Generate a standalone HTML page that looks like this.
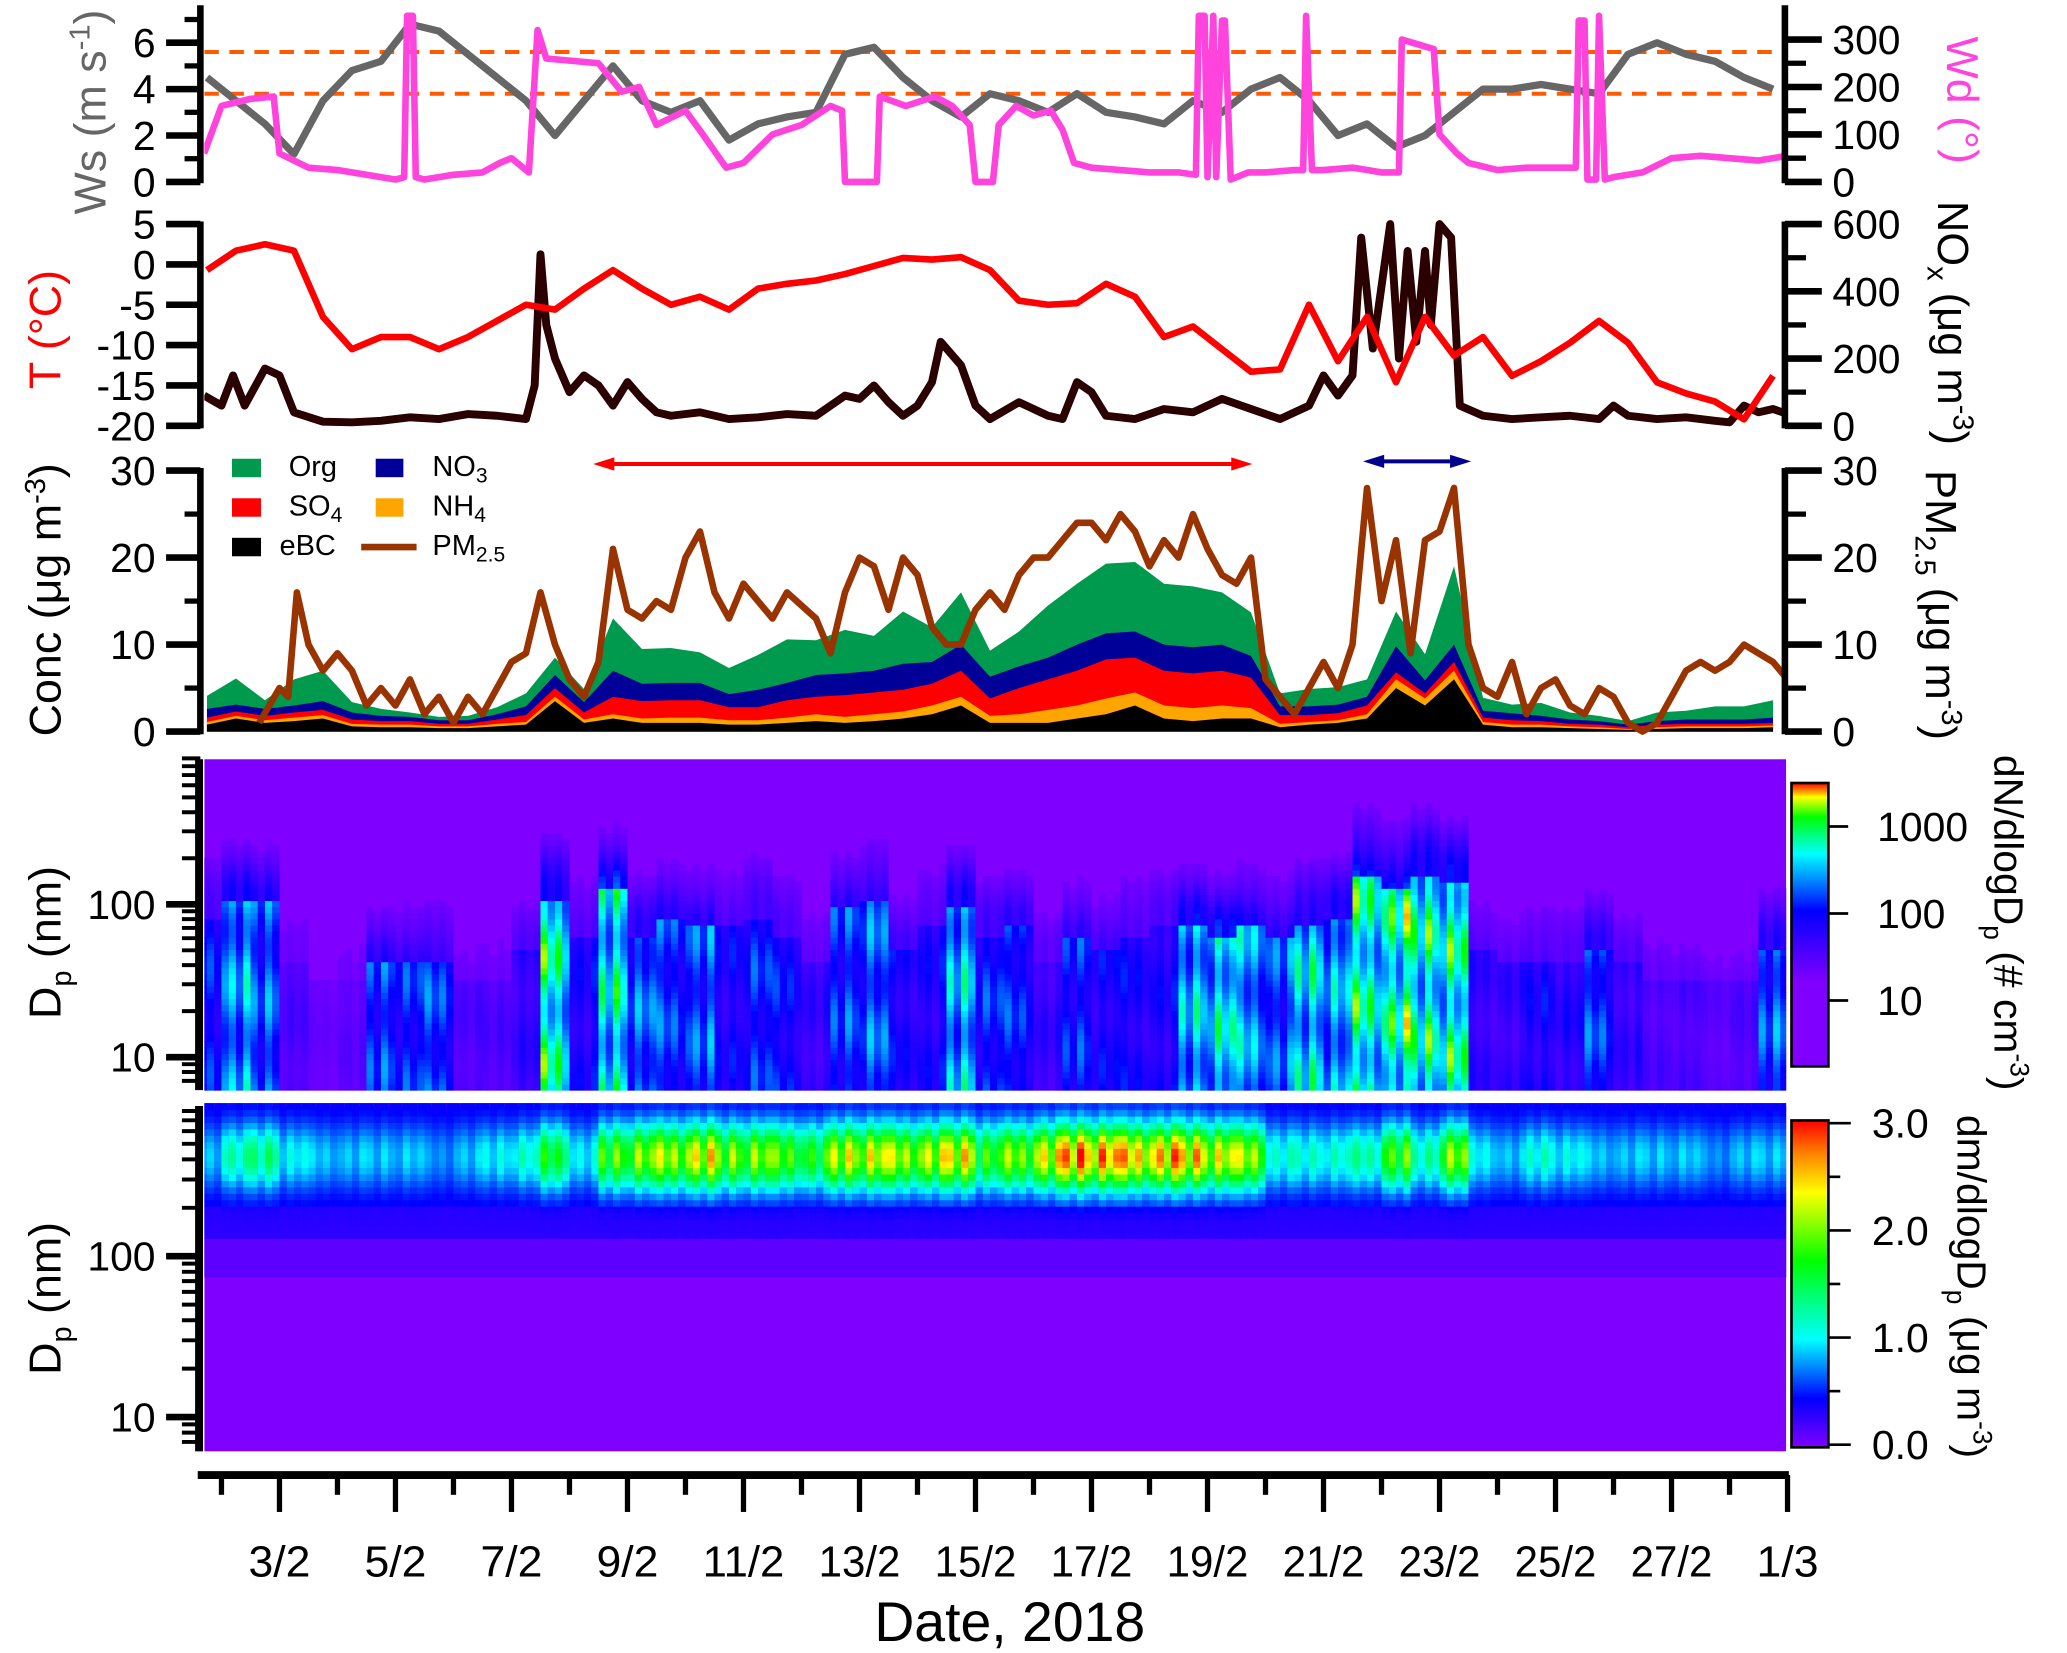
<!DOCTYPE html>
<html><head><meta charset="utf-8"><style>
html,body{margin:0;padding:0;background:#fff;}
svg{display:block;}
text{font-family:"Liberation Sans",Arial,sans-serif;}
</style></head><body>
<svg id="chart" xmlns="http://www.w3.org/2000/svg" width="2067" height="1653" viewBox="0 0 1568 1254" preserveAspectRatio="none">
<defs>
<linearGradient id="gN" x1="0" y1="1" x2="0" y2="0">
<stop offset="0" stop-color="#8000ff"/><stop offset="0.3" stop-color="#8000ff"/><stop offset="0.55" stop-color="#0000ff"/><stop offset="0.75" stop-color="#00ffff"/><stop offset="0.88" stop-color="#00ff00"/><stop offset="0.95" stop-color="#ffff00"/><stop offset="1" stop-color="#ff0000"/>
</linearGradient>
<linearGradient id="gM" x1="0" y1="1" x2="0" y2="0">
<stop offset="0" stop-color="#8000ff"/><stop offset="0.15" stop-color="#0000ff"/><stop offset="0.33" stop-color="#00ffff"/><stop offset="0.57" stop-color="#00ff00"/><stop offset="0.78" stop-color="#ffff00"/><stop offset="0.9" stop-color="#ff8000"/><stop offset="1" stop-color="#ff0000"/>
</linearGradient>
<clipPath id="clipPlot"><rect x="155" y="0" width="1200" height="1254"/></clipPath>
</defs>
<g id="layer-heat" clip-path="url(#clipPlot)"></g>
<g id="layer-series" clip-path="url(#clipPlot)"></g>
<g id="layer-axes"></g>

<text transform="rotate(-90,80,85)" x="80" y="85" text-anchor="middle" font-size="34" fill="#666">Ws (m s<tspan dy="-12" font-size="22">-1</tspan><tspan dy="12">)</tspan></text>
<text transform="rotate(-90,46,250)" x="46" y="250" text-anchor="middle" font-size="34" fill="#ff0000">T (°C)</text>
<text transform="rotate(-90,46,455)" x="46" y="455" text-anchor="middle" font-size="34" fill="#000">Conc (μg m<tspan dy="-12" font-size="22">-3</tspan><tspan dy="12">)</tspan></text>
<text transform="rotate(-90,46,715)" x="46" y="715" text-anchor="middle" font-size="34" fill="#000">D<tspan dy="8" font-size="22">p</tspan><tspan dy="-8"> (nm)</tspan></text>
<text transform="rotate(-90,46,985)" x="46" y="985" text-anchor="middle" font-size="34" fill="#000">D<tspan dy="8" font-size="22">p</tspan><tspan dy="-8"> (nm)</tspan></text>

<text transform="rotate(90,1477,76)" x="1477" y="76" text-anchor="middle" font-size="34" fill="#ff44dd">Wd (°)</text>
<text transform="rotate(90,1470,245)" x="1470" y="245" text-anchor="middle" font-size="33" fill="#000">NO<tspan dy="8" font-size="22">x</tspan><tspan dy="-8"> (μg m</tspan><tspan dy="-12" font-size="22">-3</tspan><tspan dy="12">)</tspan></text>
<text transform="rotate(90,1461,459)" x="1461" y="459" text-anchor="middle" font-size="33" fill="#000">PM<tspan dy="8" font-size="22">2.5</tspan><tspan dy="-8"> (μg m</tspan><tspan dy="-12" font-size="22">-3</tspan><tspan dy="12">)</tspan></text>
<text transform="rotate(90,1513,700)" x="1513" y="700" text-anchor="middle" font-size="31" fill="#000">dN/dlogD<tspan dy="8" font-size="20">p</tspan><tspan dy="-8"> (# cm</tspan><tspan dy="-12" font-size="20">-3</tspan><tspan dy="12">)</tspan></text>
<text transform="rotate(90,1485,976)" x="1485" y="976" text-anchor="middle" font-size="31" fill="#000">dm/dlogD<tspan dy="8" font-size="20">p</tspan><tspan dy="-8"> (μg m</tspan><tspan dy="-12" font-size="20">-3</tspan><tspan dy="12">)</tspan></text>

<text x="766" y="1245" text-anchor="middle" font-size="42" fill="#000">Date, 2018</text>

<g font-size="22" fill="#000">
<rect x="176" y="348" width="22" height="14" fill="#009a4e"/>
<text x="219" y="361">Org</text>
<rect x="285" y="348" width="21" height="14" fill="#000099"/>
<text x="328" y="361">NO<tspan dy="5" font-size="16">3</tspan></text>
<rect x="176" y="378" width="22" height="14" fill="#ff0000"/>
<text x="219" y="391">SO<tspan dy="5" font-size="16">4</tspan></text>
<rect x="285" y="378" width="21" height="14" fill="#ffa500"/>
<text x="328" y="391">NH<tspan dy="5" font-size="16">4</tspan></text>
<rect x="176" y="408" width="22" height="14" fill="#000"/>
<text x="212" y="421">eBC</text>
<line x1="274" y1="415" x2="316" y2="415" stroke="#993300" stroke-width="5"/>
<text x="328" y="421">PM<tspan dy="5" font-size="16">2.5</tspan></text>
</g>

<g>
<line x1="462" y1="352" x2="938" y2="352" stroke="#ff0000" stroke-width="3"/>
<polygon points="450,352 466,347 466,357" fill="#ff0000"/>
<polygon points="950,352 934,347 934,357" fill="#ff0000"/>
</g>
<g>
<line x1="1046" y1="350" x2="1104" y2="350" stroke="#00008b" stroke-width="3"/>
<polygon points="1034,350 1050,345 1050,355" fill="#00008b"/>
<polygon points="1116,350 1100,345 1100,355" fill="#00008b"/>
</g>

<rect x="1359" y="594" width="28" height="215" fill="url(#gN)" stroke="#000" stroke-width="2"/>
<rect x="1359" y="850" width="28" height="248" fill="url(#gM)" stroke="#000" stroke-width="2"/>
</svg>

<script>
const days = Array.from({length:55},(_,i)=>1.75+0.5*i);
const wsVals = [4.5,3.5,2.5,1.2,3.5,4.8,5.2,6.8,6.5,5.5,4.5,3.5,2.0,3.5,5.0,3.5,3.0,3.5,1.8,2.5,2.8,3.0,5.5,5.8,4.5,3.5,2.8,3.8,3.5,3.0,3.8,3.0,2.8,2.5,3.5,3.0,4.0,4.5,3.5,2.0,2.5,1.5,2.0,3.0,4.0,4.0,4.2,4.0,3.8,5.5,6.0,5.5,5.2,4.5,4.0];
const wdDays = [1.7,2.0,2.5,2.9,3.0,3.5,4.0,4.5,5.0,5.15,5.2,5.3,5.35,5.5,6.0,6.5,6.8,7.0,7.3,7.45,7.6,8.5,8.9,9.2,9.5,10.0,10.3,10.7,11.0,11.5,12.0,12.5,12.7,12.75,13.3,13.35,13.8,14.3,14.6,14.9,15.0,15.3,15.4,15.7,16.0,16.3,16.5,16.7,17.0,17.5,18.0,18.5,18.8,18.85,18.95,19.0,19.1,19.15,19.25,19.3,19.4,19.7,20.0,20.5,20.65,20.7,20.8,21.0,21.5,22.0,22.3,22.35,22.9,23.0,23.3,23.5,24.0,24.5,25.0,25.35,25.4,25.5,25.55,25.7,25.75,25.85,26.0,26.5,27.0,27.5,28.0,28.5,29.0];
const wdVals = [60,160,175,180,60,30,25,15,5,10,350,350,10,5,15,20,40,50,20,320,260,250,190,200,120,150,100,30,40,100,120,160,150,0,0,180,160,180,160,120,0,0,120,160,140,150,110,40,30,25,20,20,15,350,350,10,350,10,340,340,5,20,20,25,25,350,25,25,30,20,20,300,280,100,60,40,25,30,30,30,340,340,5,5,350,5,10,20,50,55,50,45,55];
const tVals = [-0.7,1.7,2.5,1.7,-6.5,-10.5,-9,-9,-10.5,-9,-7,-5,-5.6,-3,-0.7,-3,-5,-4,-5.6,-3,-2.4,-2,-1.2,-0.2,0.8,0.6,0.9,-0.7,-4.5,-5,-4.8,-2.4,-4,-9,-7.7,-10.5,-13.3,-13,-5,-12,-6.5,-14.6,-6.5,-11.3,-9,-13.8,-12,-9.7,-7,-9.7,-14.6,-16,-17,-19.2,-13.8];
const noxDays = [1.7,2.0,2.2,2.4,2.75,3.0,3.25,3.75,4.25,4.75,5.25,5.75,6.25,6.75,7.25,7.4,7.5,7.6,7.75,8.0,8.25,8.5,8.75,9.0,9.25,9.5,9.75,10.25,10.75,11.25,11.75,12.25,12.75,13.0,13.25,13.5,13.75,14.0,14.25,14.4,14.75,15.0,15.25,15.75,16.25,16.5,16.75,17.0,17.25,17.75,18.25,18.75,19.25,19.75,20.25,20.75,21.0,21.25,21.5,21.65,21.85,22.15,22.3,22.45,22.6,22.75,22.85,23.0,23.2,23.35,23.75,24.25,24.75,25.25,25.75,26.0,26.25,26.75,27.25,27.75,28.0,28.25,28.5,28.75,29.0];
const noxVals = [90,60,150,60,170,150,40,12,10,15,25,20,35,30,20,120,510,300,200,100,150,120,60,130,80,40,30,40,20,25,35,30,90,80,120,70,30,60,130,250,180,60,20,70,30,20,130,100,30,20,50,40,80,50,20,60,150,90,150,560,230,600,200,520,250,520,300,600,560,60,30,20,25,30,20,60,30,20,25,15,10,60,40,50,35];
const ebcVals = [0.8,1.5,1,1.2,1.5,0.6,0.5,0.5,0.4,0.4,0.6,0.8,3.5,1,1.5,1,1,1,0.8,0.8,1,1.2,1,1.2,1.5,2,3,1,1,1,1.5,2,3,1.5,1.2,1.5,1.5,0.5,0.8,1,1.5,5,3,6,0.8,0.5,0.5,0.4,0.3,0.2,0.3,0.4,0.4,0.4,0.5];
const nh4Vals = [0.3,0.3,0.3,0.4,0.4,0.3,0.3,0.3,0.2,0.2,0.3,0.3,0.5,0.4,0.5,0.5,0.6,0.6,0.5,0.5,0.6,0.8,0.7,0.8,0.8,1,1,0.8,1,1.5,1.5,1.8,1.5,1.5,1.5,1.5,1.2,0.4,0.3,0.3,0.5,1,0.8,1,0.3,0.3,0.3,0.2,0.2,0.1,0.2,0.2,0.2,0.2,0.2];
const so4Vals = [0.5,0.5,0.5,0.6,0.6,0.5,0.4,0.4,0.3,0.3,0.5,0.8,1,0.8,2,2,2,2,1.5,1.5,2,2,2.5,2.5,2.5,2.5,3,2,3,3.5,4,4.5,4,4,4,4,3.5,1,0.8,0.8,1,0.8,0.6,1,0.5,0.5,0.4,0.3,0.3,0.2,0.3,0.3,0.3,0.3,0.3];
const no3Vals = [1,0.8,0.8,0.8,1,0.8,0.6,0.5,0.4,0.4,0.6,1,1.5,1.2,3,2,2,2,1.5,2,2,2.5,2.5,2.5,3,2.5,3,2.5,2.5,2.5,3,3,3,3,3,3,2.5,1,1,1,1,3,1.5,2,0.8,0.8,0.6,0.5,0.4,0.3,0.4,0.5,0.5,0.5,0.6];
const orgVals = [1.5,3,1,3,3.5,1.2,0.8,0.5,0.4,0.5,0.8,1.5,2,1.5,6,4,4,3.5,3,4,5,4,5,4,6,4,6,3,4,6,7,8,8,7,7,6,5,1.5,2,2,2,4,3,9,1.5,1,1.5,0.8,0.6,0.4,1,1,1.5,1.5,2];
const pmDays = [2.65,3.0,3.15,3.3,3.5,3.75,4.0,4.25,4.5,4.75,5.0,5.25,5.5,5.75,6.0,6.25,6.5,6.75,7.0,7.25,7.5,7.75,8.0,8.25,8.5,8.75,9.0,9.25,9.5,9.75,10.0,10.25,10.5,10.75,11.0,11.25,11.5,11.75,12.25,12.5,12.75,13.0,13.25,13.5,13.75,14.0,14.25,14.5,14.75,15.0,15.25,15.5,15.75,16.0,16.25,16.5,16.75,17.0,17.25,17.5,17.75,18.0,18.25,18.5,18.75,19.0,19.25,19.5,19.75,20.0,20.25,20.5,20.75,21.0,21.25,21.5,21.75,22.0,22.25,22.5,22.75,23.0,23.25,23.5,23.75,24.0,24.25,24.5,24.75,25.0,25.25,25.5,25.75,26.0,26.25,26.5,26.75,27.0,27.25,27.5,27.75,28.0,28.25,28.5,28.75,29.0];
const pmVals = [1,5,4,16,10,7,9,7,3,5,3,6,2,4,1,4,2,5,8,9,16,10,6,4,8,21,14,13,15,14,20,23,16,13,17,15,13,16,13,9,16,20,19,14,20,18,12,10,10,14,16,14,18,20,20,22,24,24,22,25,23,19,22,20,25,21,18,17,20,6,4,2,5,8,5,10,28,15,22,9,22,23,28,10,5,4,8,2,5,6,3,2,5,4,1,0,1,4,7,8,7,8,10,9,8,6];
const nInt = [0.5,0.7,0.6,0.2,0.1,0.15,0.55,0.5,0.55,0.2,0.2,0.3,0.9,0.4,0.85,0.6,0.55,0.6,0.4,0.5,0.45,0.3,0.55,0.6,0.4,0.4,0.75,0.5,0.5,0.3,0.5,0.4,0.4,0.4,0.75,0.8,0.7,0.6,0.8,0.7,0.9,0.95,0.9,0.9,0.3,0.3,0.4,0.35,0.55,0.3,0.2,0.2,0.15,0.2,0.6];
const nTop = [80,100,100,40,30,30,40,40,40,30,30,50,100,60,120,60,80,70,70,80,60,40,90,100,50,70,90,60,70,40,60,50,60,70,70,60,70,60,70,80,150,120,150,130,50,40,40,40,50,40,30,30,30,30,50];
const mInt = [0.2,0.35,0.4,0.25,0.2,0.2,0.2,0.2,0.15,0.2,0.25,0.3,0.5,0.25,0.6,0.65,0.7,0.8,0.65,0.65,0.6,0.55,0.75,0.75,0.7,0.75,0.8,0.55,0.65,0.8,0.95,0.9,0.85,0.9,0.85,0.75,0.7,0.3,0.3,0.3,0.35,0.6,0.35,0.65,0.25,0.2,0.3,0.25,0.2,0.2,0.2,0.2,0.15,0.2,0.2];
const dateLabels = ["3/2","5/2","7/2","9/2","11/2","13/2","15/2","17/2","19/2","21/2","23/2","25/2","27/2","1/3"];

const NS = "http://www.w3.org/2000/svg";
const X = d => 1356 - (29 - d) * 44;
const yWs = v => 138 - v * 17.6;
const yWd = v => 138 - v * 108 / 300;
const yT = v => 170 + (5 - v) * 6.12;
const yNox = v => 323 - v * 153 / 600;
const yC = v => 555 - v * 6.6;
const yN = d => 802 - (Math.log10(d) - 1) * 116;
const yM = d => 1075 - (Math.log10(d) - 1) * 122;
const heat = document.getElementById('layer-heat');
const series = document.getElementById('layer-series');
const axes = document.getElementById('layer-axes');
function mk(tag, attrs, parent){ const e=document.createElementNS(NS,tag); for(const k in attrs) e.setAttribute(k,attrs[k]); parent.appendChild(e); return e; }
function hex(c){return [parseInt(c.slice(1,3),16),parseInt(c.slice(3,5),16),parseInt(c.slice(5,7),16)];}
function cmap(stops, v){
  v=Math.max(0,Math.min(1,v));
  for(let i=1;i<stops.length;i++){ if(v<=stops[i][0]){ const a=stops[i-1],b=stops[i]; const f=(v-a[0])/((b[0]-a[0])||1); const ca=hex(a[1]),cb=hex(b[1]); return 'rgb('+ca.map((c,j)=>Math.round(c+(cb[j]-c)*f)).join(',')+')'; } }
  return stops[stops.length-1][1];
}
const nStops=[[0,'#8000ff'],[0.3,'#8000ff'],[0.55,'#0000ff'],[0.75,'#00ffff'],[0.88,'#00ff00'],[0.95,'#ffff00'],[1,'#ff0000']];
const mStops=[[0,'#8000ff'],[0.15,'#0000ff'],[0.33,'#00ffff'],[0.57,'#00ff00'],[0.78,'#ffff00'],[0.9,'#ff8000'],[1,'#ff0000']];
const subMod=[1,0.78,0.92,0.68];

mk('rect',{x:155,y:576,width:1200,height:251,fill:'#8000ff'},heat);
mk('rect',{x:155,y:839,width:1200,height:262,fill:'#8000ff'},heat);
const lStep=0.04;
for(let i=0;i<days.length;i++){
  for(let k=0;k<4;k++){
    const x0=X(days[i]-0.25+k*0.125), w=5.6, m=subMod[(k+i)%4];
    for(let ld=Math.log10(6.1); ld<Math.log10(905); ld+=lStep){
      const d=Math.pow(10,ld), lt=Math.log10(nTop[i]);
      const s = ld<=lt ? 1 : 0.55*Math.exp(-Math.pow((ld-lt)/0.3,2));
      const v = 0.3 + 0.7*nInt[i]*m*s*(0.85+0.15*Math.sin(ld*9+i));
      if(v<0.33) continue;
      const r=mk('rect',{x:x0,y:yN(Math.pow(10,ld+lStep)),width:w,height:yN(d)-yN(Math.pow(10,ld+lStep))+0.5,fill:cmap(nStops,v)},heat);
      
      
    }
    for(let ld=Math.log10(6.2); ld<Math.log10(873); ld+=lStep){
      const d=Math.pow(10,ld);
      const base = d>200?0.13:(d>120?0.1:(d>70?0.04:0));
      const pk=Math.exp(-Math.pow((ld-Math.log10(400))/0.2,2));
      const v = base + 0.95*mInt[i]*m*pk;
      if(v<0.02) continue;
      const r=mk('rect',{x:x0,y:yM(Math.pow(10,ld+lStep)),width:w,height:yM(d)-yM(Math.pow(10,ld+lStep))+0.5,fill:cmap(mStops,v)},heat);
      
      
    }
  }
}

[5.6,3.8].forEach(v=>{
  const l=mk('line',{x1:155,x2:1354,y1:yWs(v),y2:yWs(v),stroke:'#ff5a00','stroke-width':3,'stroke-dasharray':'11 8'},series);
  
  
});
function line(xs, ys, fx, fy, color, w, name){
  const p=xs.map((d,i)=>fx(d).toFixed(1)+','+fy(ys[i]).toFixed(1)).join(' ');
  const e=mk('polyline',{points:p,fill:'none',stroke:color,'stroke-width':w,'stroke-linejoin':'round'},series);
  
  
}
line(days,wsVals,X,yWs,'#666666',5.5,'wind-speed-line');
line(wdDays,wdVals,X,yWd,'#ff44dd',5,'wind-direction-line');
line(noxDays,noxVals,X,yNox,'#2a0000',6,'nox-line');
line(days,tVals,X,yT,'#ff0000',5,'temperature-line');
const comps=[[ebcVals,'#000000','ebc-area'],[nh4Vals,'#ffa500','nh4-area'],[so4Vals,'#ff0000','so4-area'],[no3Vals,'#000099','no3-area'],[orgVals,'#009a4e','org-area']];
const cum=[];
let acc=days.map(()=>0);
comps.forEach(c=>{acc=acc.map((a,i)=>a+c[0][i]);cum.push(acc.slice());});
for(let j=comps.length-1;j>=0;j--){
  const top=cum[j];
  const pts=days.map((d,i)=>X(d).toFixed(1)+','+yC(top[i]).toFixed(1));
  pts.push(X(days[days.length-1]).toFixed(1)+','+yC(0)); pts.unshift(X(days[0]).toFixed(1)+','+yC(0));
  const e=mk('polygon',{points:pts.join(' '),fill:comps[j][1]},series);
  
  
}
line(pmDays,pmVals,X,yC,'#993300',5,'pm25-line');

function axLine(x1,y1,x2,y2,w,name){const e=mk('line',{x1,y1,x2,y2,stroke:'#000','stroke-width':w},axes);return e;}
function label(x,y,txt,anchor,size,name){const t=mk('text',{x,y,'text-anchor':anchor,'font-size':size,fill:'#000'},axes);t.textContent=txt;return t;}
axLine(152,4,152,139,5,'ws-axis');
axLine(1354,4,1354,139,5,'wd-axis');
[0,2,4,6].forEach(v=>{axLine(126,yWs(v),152,yWs(v),5,'ws-tick');label(118,yWs(v)+11,String(v),'end',31,'ws-tick-label');});
[1,3,5,7].forEach(v=>{axLine(140,yWs(v),152,yWs(v),4,'ws-minor-tick');});
[0,100,200,300].forEach(v=>{axLine(1354,yWd(v),1382,yWd(v),5,'wd-tick');label(1390,yWd(v)+11,String(v),'start',31,'wd-tick-label');});
[50,150,250].forEach(v=>{axLine(1354,yWd(v),1370,yWd(v),4,'wd-minor-tick');});
axLine(152,168,152,325,5,'t-axis');
axLine(1354,168,1354,325,5,'nox-axis');
[5,0,-5,-10,-15,-20].forEach(v=>{axLine(126,yT(v),152,yT(v),5,'t-tick');label(118,yT(v)+11,String(v),'end',31,'t-tick-label');});
[0,200,400,600].forEach(v=>{axLine(1354,yNox(v),1382,yNox(v),5,'nox-tick');label(1390,yNox(v)+11,String(v),'start',31,'nox-tick-label');});
[100,300,500].forEach(v=>{axLine(1354,yNox(v),1370,yNox(v),4,'nox-minor-tick');});
axLine(152,355,152,557,5,'conc-axis');
axLine(1354,355,1354,557,5,'pm25-axis');
[0,10,20,30].forEach(v=>{axLine(126,yC(v),152,yC(v),5,'conc-tick');label(118,yC(v)+11,String(v),'end',31,'conc-tick-label');axLine(1354,yC(v),1382,yC(v),5,'pm25-tick');label(1390,yC(v)+11,String(v),'start',31,'pm25-tick-label');});
[5,15,25].forEach(v=>{axLine(140,yC(v),152,yC(v),4,'conc-minor-tick');axLine(1354,yC(v),1370,yC(v),4,'pm25-minor-tick');});
function logAxis(fy,y0,y1,dmin,dmax,nm){
  axLine(151,y0,151,y1,6,nm+'-axis');
  for(let dec=1;dec<=1000;dec*=10){for(let m=1;m<10;m++){const d=dec*m;if(d<dmin||d>dmax)continue;
    if(m===1){axLine(126,fy(d),152,fy(d),5,nm+'-tick');label(118,fy(d)+11,String(d),'end',31,nm+'-tick-label');}
    else axLine(138,fy(d),152,fy(d),3,nm+'-minor-tick');}}
}
logAxis(yN,576,827,6.1,905,'dp-number');
logAxis(yM,839,1101,6.2,873,'dp-mass');
[[10,759],[100,693],[1000,627]].forEach(t=>{axLine(1387,t[1],1402,t[1],2,'number-colorbar-tick');label(1424,t[1]+11,String(t[0]),'start',31,'number-colorbar-label');});
[0,1,2,3].forEach(v=>{const y=1096-v*81.3;axLine(1387,y,1404,y,2,'mass-colorbar-tick');label(1420,y+11,v.toFixed(1),'start',31,'mass-colorbar-label');});
[0.5,1.5,2.5].forEach(v=>{const y=1096-v*81.3;axLine(1387,y,1396,y,2,'mass-colorbar-minor-tick');});
axLine(150,1119,1357,1119,6,'date-axis');
for(let d=2;d<=29;d++){
  if(d%2===1){axLine(X(d),1119,X(d),1147,4,'date-major-tick');}
  else axLine(X(d),1119,X(d),1134,4,'date-minor-tick');
}
dateLabels.forEach((s,i)=>{const d=3+2*i;const t=label(X(d),1196,s,'middle',33,'date-tick-label');t.setAttribute('textLength',s.length>3?62:47);t.setAttribute('lengthAdjust','spacingAndGlyphs');});
</script>
</body></html>
